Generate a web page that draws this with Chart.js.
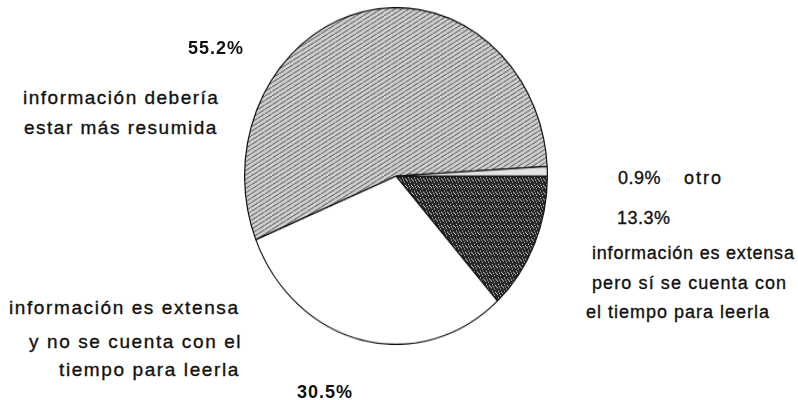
<!DOCTYPE html>
<html lang="es">
<head>
    <meta charset="UTF-8">
    <title>Opinión sobre la información</title>
    <script src="https://cdn.jsdelivr.net/npm/chart.js"></script>
    <style>
        html, body {
            margin: 0;
            padding: 0;
            background: #ffffff;
        }

        .page {
            position: relative;
            width: 798px;
            height: 400px;
            overflow: hidden;
            font-family: 'Liberation Sans', Arial, sans-serif;
            color: #111;
        }

        /* pie is an ellipse in the scan, so stretch the canvas a little */
        #pieChart {
            position: absolute;
            left: 244px;
            top: 24px;
            transform: scaleY(1.112);
            transform-origin: 50% 50%;
        }

        .lbl {
            position: absolute;
            white-space: nowrap;
            line-height: 22px;
            font-size: 18px;
            -webkit-text-stroke: 0.35px #111;
        }

        .pct {
            font-weight: bold;
            letter-spacing: 1px;
            -webkit-text-stroke: 0;
        }
    </style>
</head>
<body>

<div class="page" id="page">
    <canvas id="pieChart" width="304" height="304"></canvas>
</div>

<script>
    // slices clockwise, starting at 3 o'clock
    const categories = [
        'información es extensa pero sí se cuenta con el tiempo para leerla',
        'información es extensa y no se cuenta con el tiempo para leerla',
        'información debería estar más resumida',
        'otro'
    ];
    const values = [13.3, 30.5, 55.2, 0.9];

    // label lines for each slice (same order as categories)
    const labelLines = [
        ['información es extensa', 'pero sí se cuenta con', 'el tiempo para leerla'],
        ['información es extensa', 'y no se cuenta con el', 'tiempo para leerla'],
        ['información debería', 'estar más resumida'],
        ['otro']
    ];

    // hatched light grey texture
    function hatchPattern() {
        const c = document.createElement('canvas');
        c.width = 7;
        c.height = 4;
        const g = c.getContext('2d');
        g.fillStyle = '#d0d0d0';
        g.fillRect(0, 0, 7, 4);
        g.strokeStyle = '#555555';
        g.lineWidth = 1;
        g.beginPath();
        g.moveTo(0, 4);
        g.lineTo(7, 0);
        g.stroke();
        return g.createPattern(c, 'repeat');
    }

    // dark stippled texture
    function stipplePattern() {
        const c = document.createElement('canvas');
        c.width = 6;
        c.height = 6;
        const g = c.getContext('2d');
        g.fillStyle = '#262626';
        g.fillRect(0, 0, 6, 6);
        g.fillStyle = '#c8c8c8';
        [[1, 0], [4, 1], [2, 3], [5, 4], [0, 5], [3, 5]].forEach(p => g.fillRect(p[0], p[1], 1, 1));
        return g.createPattern(c, 'repeat');
    }

    const ctx = document.getElementById('pieChart').getContext('2d');

    new Chart(ctx, {
        type: 'pie',
        data: {
            labels: categories,
            datasets: [{
                data: values,
                backgroundColor: [stipplePattern(), '#ffffff', hatchPattern(), '#e4e4e4'],
                borderColor: '#111111',
                borderWidth: 1.2
            }]
        },
        options: {
            responsive: false,
            animation: false,
            rotation: 90,
            layout: { padding: 0 },
            plugins: {
                legend: { display: false },
                tooltip: { enabled: false }
            }
        }
    });

    // text around the pie
    const page = document.getElementById('page');

    function addText(text, x, y, opts) {
        opts = opts || {};
        const d = document.createElement('div');
        d.className = 'lbl ' + (opts.cls || '');
        d.textContent = text;
        d.style.top = (y - 11) + 'px';
        if (opts.size) d.style.fontSize = opts.size + 'px';
        if (opts.ls !== undefined) d.style.letterSpacing = opts.ls + 'px';
        page.appendChild(d);
        if (opts.align === 'right') d.style.left = (x - d.offsetWidth) + 'px';
        else if (opts.align === 'center') d.style.left = (x - d.offsetWidth / 2) + 'px';
        else d.style.left = x + 'px';
        return d;
    }

    const pct = v => v.toFixed(1) + '%';

    // 55.2% - upper left
    addText(pct(values[2]), 188, 48, { cls: 'pct' });
    addText(labelLines[2][0], 121, 98, { size: 19, ls: 1.5, align: 'center' });
    addText(labelLines[2][1], 121, 128, { size: 19, ls: 1.5, align: 'center' });

    // 0.9% otro
    addText(pct(values[3]), 618, 178, { ls: 0.5 });
    addText(labelLines[3][0], 684, 178, { ls: 2 });

    // 13.3% - right
    addText(pct(values[0]), 617, 218, { ls: 0.5 });
    addText(labelLines[0][0], 592, 253, { ls: 0.8 });
    addText(labelLines[0][1], 592, 283, { ls: 1.1 });
    addText(labelLines[0][2], 586, 312, { ls: 1 });

    // 30.5% - lower left
    addText(labelLines[1][0], 240, 308, { size: 19, ls: 1.6, align: 'right' });
    addText(labelLines[1][1], 242, 342, { size: 19, ls: 1.6, align: 'right' });
    addText(labelLines[1][2], 240, 370, { size: 19, ls: 1.6, align: 'right' });
    addText(pct(values[1]), 297, 392, { cls: 'pct' });
</script>
</body>
</html>
